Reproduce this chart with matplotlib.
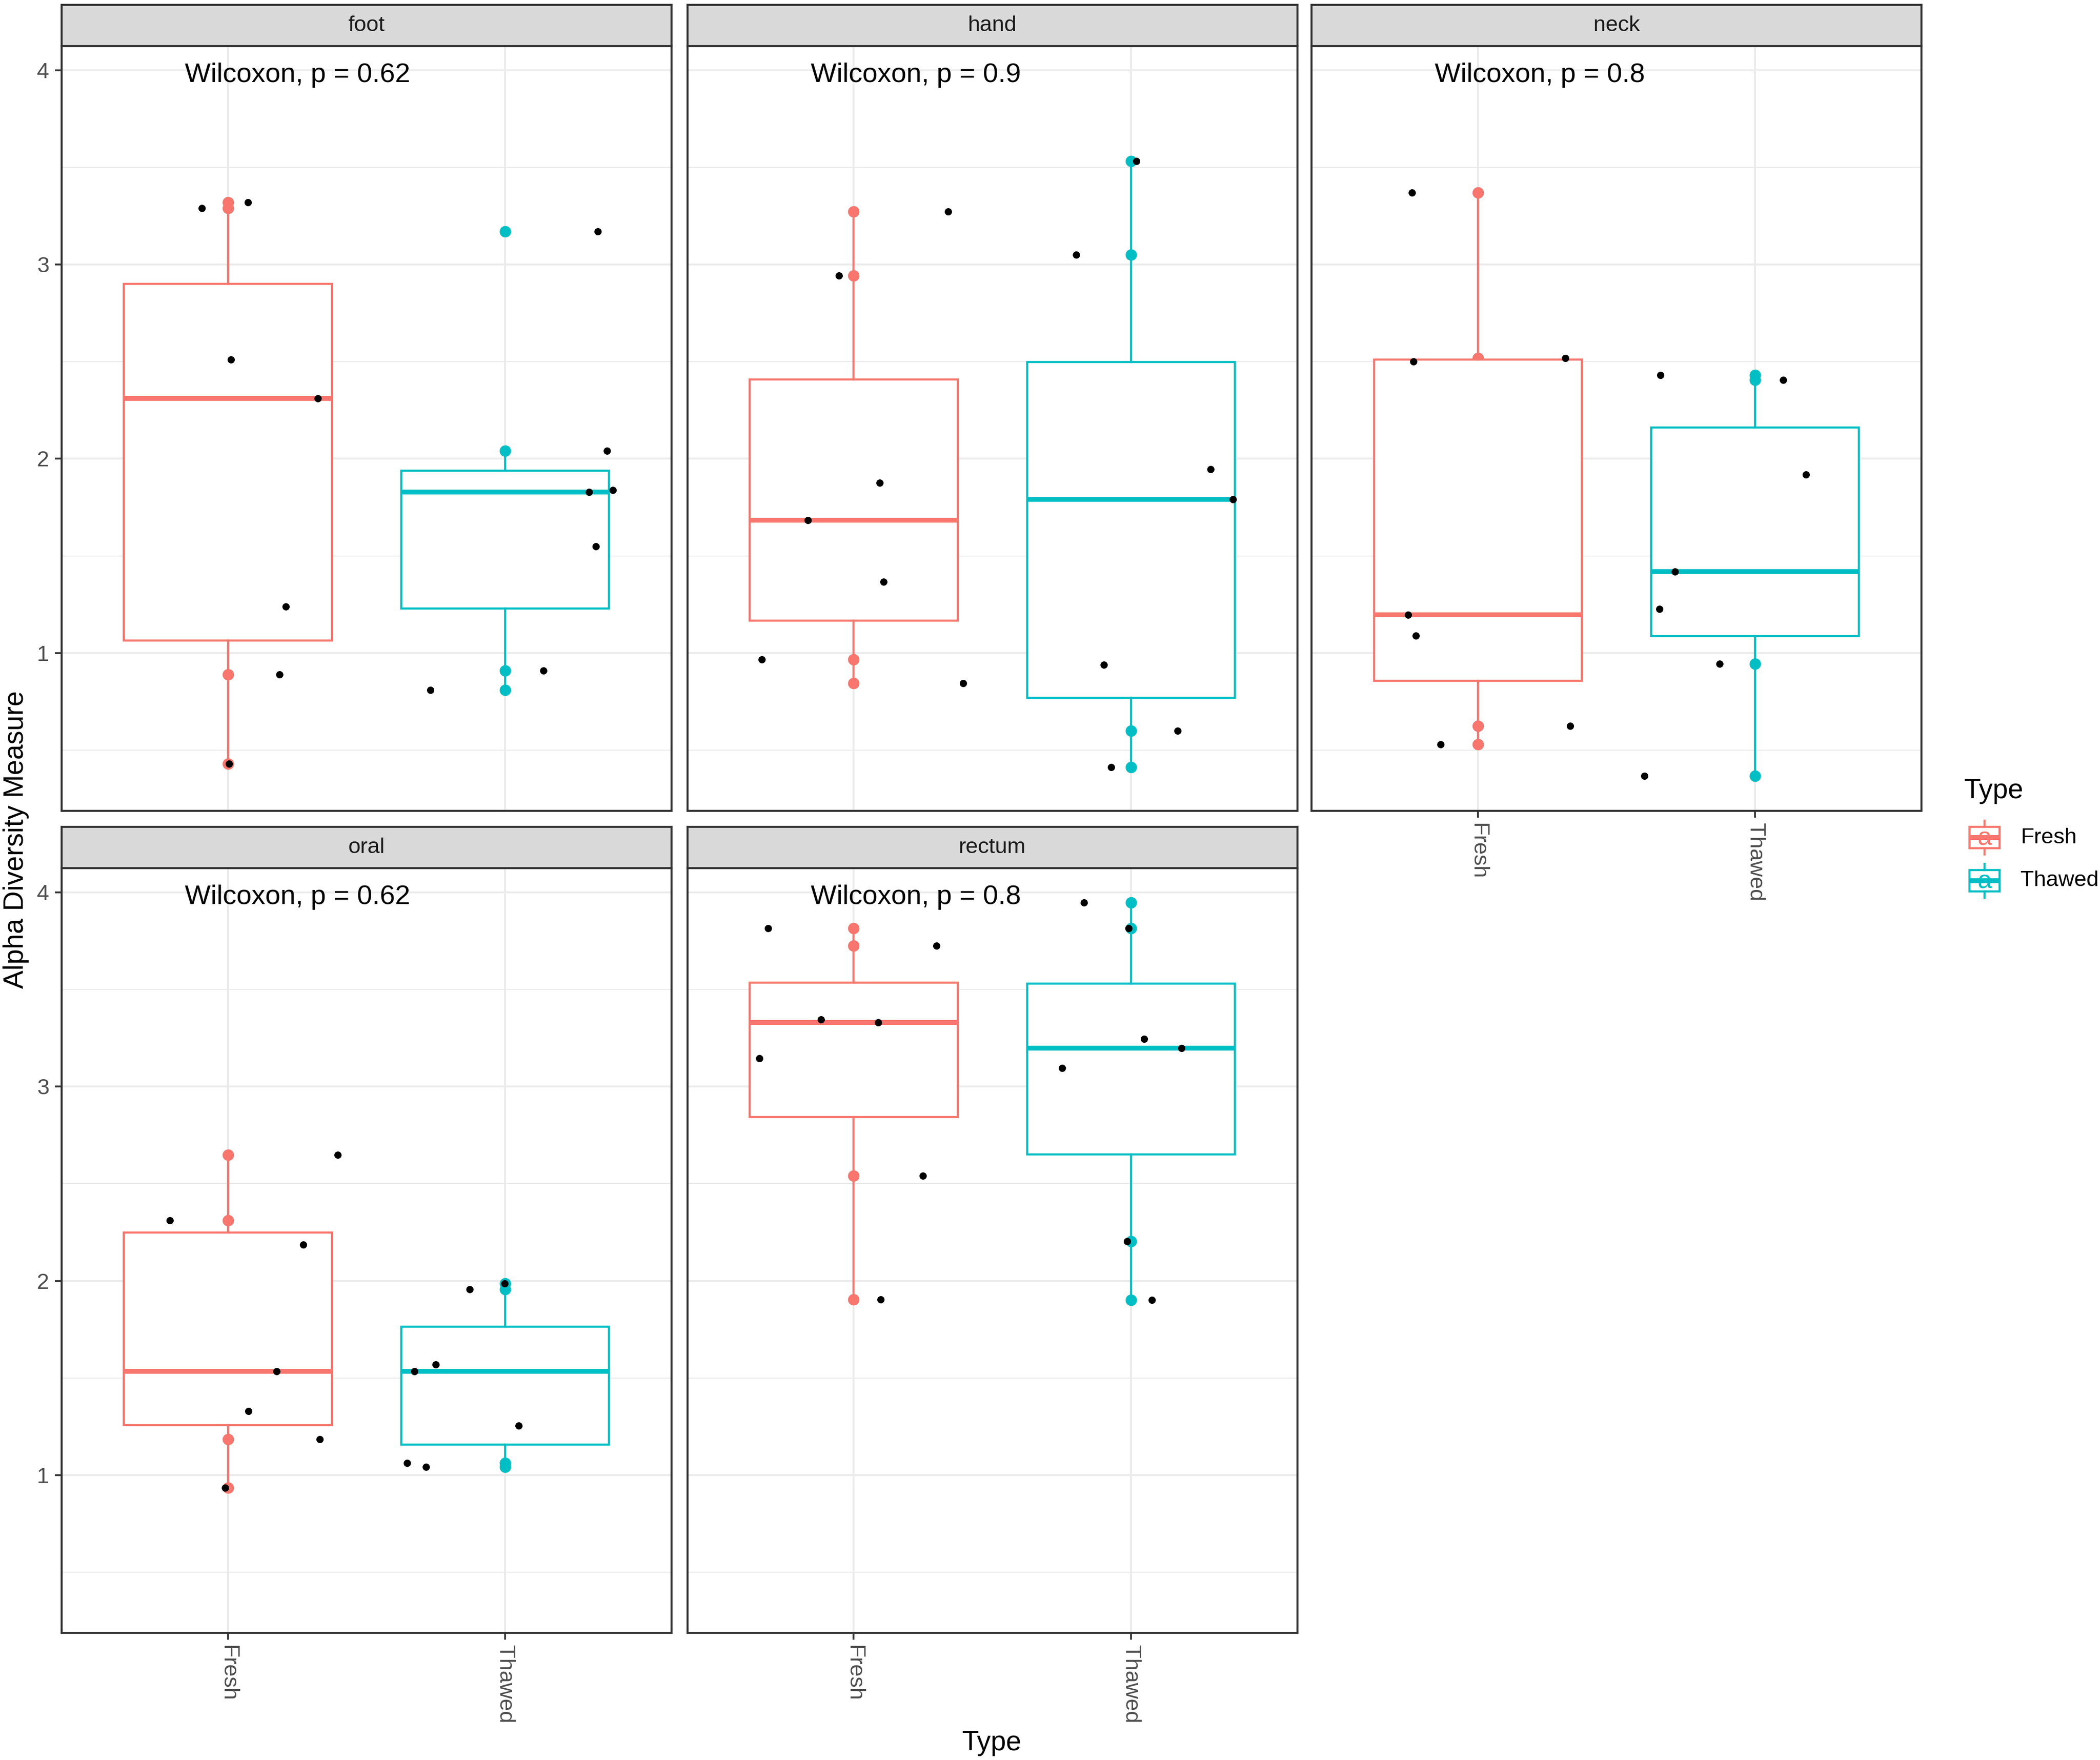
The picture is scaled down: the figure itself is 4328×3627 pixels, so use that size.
import numpy as np
import matplotlib.pyplot as plt
from matplotlib.patches import Rectangle

plt.rcParams['font.family'] = ['Liberation Sans', 'DejaVu Sans']

# data: alpha diversity per body site and sample type
sites = ['foot', 'hand', 'neck', 'oral', 'rectum']
p_labels = ['Wilcoxon, p = 0.62', 'Wilcoxon, p = 0.9', 'Wilcoxon, p = 0.8',
            'Wilcoxon, p = 0.62', 'Wilcoxon, p = 0.8']
types = ['Fresh', 'Thawed']

fresh_values = [
    [3.29, 3.32, 2.51, 2.31, 1.24, 0.89, 0.43],
    [3.273, 2.943, 1.876, 1.684, 1.368, 0.968, 0.846],
    [3.370, 2.500, 2.519, 1.197, 1.089, 0.624, 0.530],
    [2.311, 2.649, 2.186, 1.535, 1.330, 1.184, 0.935],
    [3.816, 3.724, 3.346, 3.330, 3.146, 2.541, 1.905],
]
thawed_values = [
    [3.17, 2.04, 1.83, 1.84, 1.55, 0.81, 0.91],
    [3.532, 3.049, 1.946, 1.792, 0.941, 0.600, 0.414],
    [2.432, 2.405, 1.919, 1.419, 1.227, 0.946, 0.368],
    [1.957, 1.986, 1.570, 1.535, 1.254, 1.062, 1.043],
    [3.946, 3.816, 3.246, 3.197, 3.095, 2.205, 1.903],
]
# horizontal jitter of the black points (category units), as seen in the figure
fresh_jitter = [
    [-0.094, 0.073, 0.011, 0.324, 0.210, 0.187, 0.005],
    [0.341, -0.053, 0.094, -0.166, 0.107, -0.331, 0.395],
    [-0.238, -0.232, 0.316, -0.251, -0.223, 0.333, -0.135],
    [-0.210, 0.397, 0.273, 0.176, 0.074, 0.332, -0.010],
    [-0.308, 0.298, -0.118, 0.088, -0.341, 0.250, 0.097],
]
thawed_jitter = [
    [0.335, 0.368, 0.303, 0.389, 0.327, -0.269, 0.139],
    [0.019, -0.197, 0.288, 0.368, -0.097, 0.168, -0.072],
    [-0.341, 0.101, 0.183, -0.290, -0.346, -0.129, -0.400],
    [-0.127, -0.002, -0.250, -0.327, 0.050, -0.353, -0.285],
    [-0.169, -0.009, 0.048, 0.182, -0.249, -0.014, 0.075],
]

colors = ['#F8766D', '#00BFC4']
border = '#333333'
grid_col = '#EBEBEB'

W, H = 4328, 3627
fig = plt.figure(figsize=(W / 300, H / 300), dpi=300)

all_vals = np.concatenate([np.ravel(fresh_values), np.ravel(thawed_values)])
lo, hi = all_vals.min(), all_vals.max()
pad = 0.05 * (hi - lo)
ylim = (lo - pad, hi + pad)

col_left = [0.02927, 0.32731, 0.62454]
row_bottom = [0.5394, 0.0723]
pw, ph, sh = 0.29044, 0.4345, 0.0233

for i, site in enumerate(sites):
    r, c = divmod(i, 3)
    ax = fig.add_axes([col_left[c], row_bottom[r], pw, ph])
    groups = [fresh_values[i], thawed_values[i]]
    jitters = [fresh_jitter[i], thawed_jitter[i]]

    for k, (vals, col) in enumerate(zip(groups, colors)):
        ax.scatter(np.full(len(vals), k + 1), vals, s=32, color=col,
                   linewidths=0, zorder=2)
        ax.boxplot([vals], positions=[k + 1], widths=0.75, whis=1.5,
                   showfliers=False, showcaps=False, patch_artist=True,
                   boxprops=dict(facecolor='white', edgecolor=col, linewidth=1.05),
                   whiskerprops=dict(color=col, linewidth=1.05),
                   medianprops=dict(color=col, linewidth=2.4, solid_capstyle='butt'),
                   zorder=3, manage_ticks=False)
    for k, (vals, jit) in enumerate(zip(groups, jitters)):
        ax.scatter(k + 1 + np.array(jit), vals, s=13, color='black',
                   linewidths=0, zorder=4)

    ax.text(0.845, 3.94, p_labels[i], fontsize=13.5, ha='left',
            va='baseline', zorder=5)

    ax.set_xlim(0.4, 2.6)
    ax.set_ylim(*ylim)
    ax.set_xticks([1, 2])
    ax.set_yticks([1, 2, 3, 4])
    ax.set_yticks([0.5, 1.5, 2.5, 3.5], minor=True)
    ax.set_axisbelow(True)
    ax.grid(which='major', color=grid_col, linewidth=0.95)
    ax.grid(which='minor', axis='y', color=grid_col, linewidth=0.5)
    ax.tick_params(which='minor', left=False, bottom=False)
    ax.tick_params(which='major', color=border, length=3.4, width=0.9,
                   pad=2.7, labelsize=10.9, labelcolor='#4D4D4D')
    for sp in ax.spines.values():
        sp.set_color(border)
        sp.set_linewidth(1.0)

    if c == 0:
        ax.set_yticklabels(['1', '2', '3', '4'])
    else:
        ax.tick_params(axis='y', left=False, labelleft=False)
    if i >= 2:
        ax.set_xticklabels(types, rotation=-90)
    else:
        ax.tick_params(axis='x', bottom=False, labelbottom=False)

    # facet strip
    st = fig.add_axes([col_left[c], row_bottom[r] + ph, pw, sh])
    st.set_facecolor('#D9D9D9')
    st.set_xticks([])
    st.set_yticks([])
    for sp in st.spines.values():
        sp.set_color(border)
        sp.set_linewidth(1.0)
    st.text(0.5, 0.5, site, ha='center', va='center', fontsize=10.9,
            color='#1A1A1A', transform=st.transAxes)

fig.text(33 / W, 1 - 1730 / H, 'Alpha Diversity Measure', rotation=90,
         ha='center', va='center', fontsize=13.6)
fig.text(2044 / W, 1 - 3592 / H, 'Type', ha='center', va='center',
         fontsize=13.6)

# legend
fig.text(4048 / W, 1 - 1630 / H, 'Type', ha='left', va='center', fontsize=13.6)
key_bottom = [1 - 1763 / H, 1 - 1852 / H]
label_y = [1 - 1727 / H, 1 - 1815 / H]
for k, (name, col) in enumerate(zip(types, colors)):
    kax = fig.add_axes([4055 / W, key_bottom[k], 70 / W, 74 / H])
    kax.set_xlim(0, 1)
    kax.set_ylim(0, 1)
    kax.axis('off')
    kax.plot([0.5, 0.5], [0.0, 0.2], color=col, linewidth=1.05)
    kax.plot([0.5, 0.5], [0.8, 1.0], color=col, linewidth=1.05)
    kax.add_patch(Rectangle((0.06, 0.2), 0.88, 0.6, facecolor='white',
                            edgecolor=col, linewidth=1.05))
    kax.plot([0.06, 0.94], [0.5, 0.5], color=col, linewidth=2.4,
             solid_capstyle='butt')
    kax.text(0.5, 0.47, 'a', color=col, ha='center', va='center',
             fontsize=12.5)
    fig.text(4164 / W, label_y[k], name, ha='left', va='center',
             fontsize=10.9)

fig.savefig('out.png', dpi=300)
